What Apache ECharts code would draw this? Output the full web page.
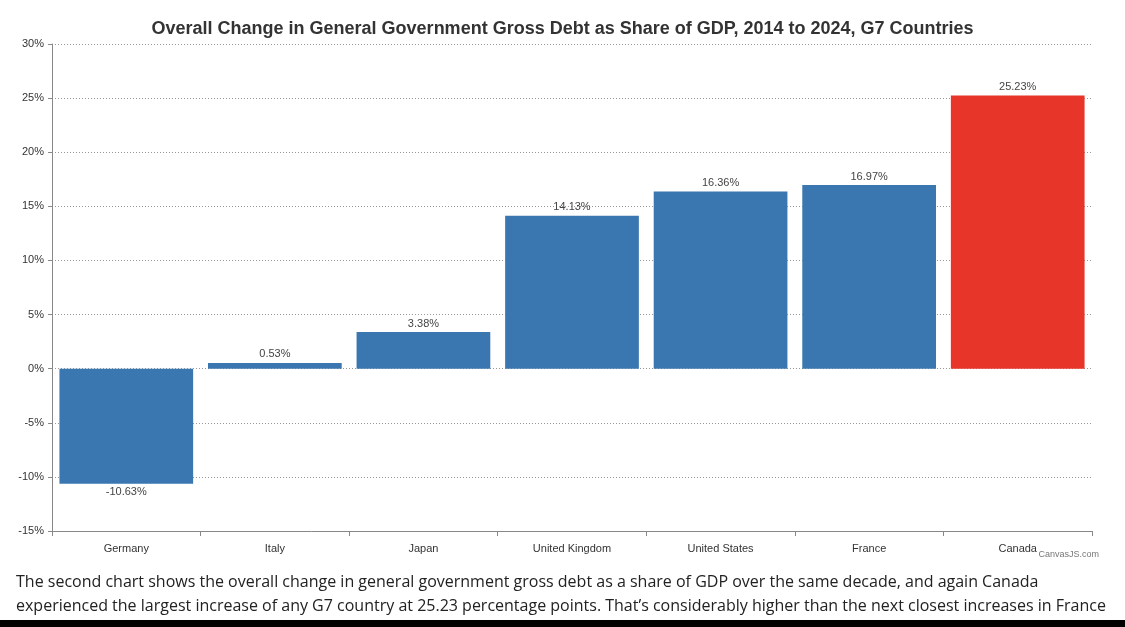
<!DOCTYPE html>
<html><head><meta charset="utf-8">
<script src="https://cdn.jsdelivr.net/npm/echarts@6/dist/echarts.min.js"></script>
<style>
body{margin:0;background:#fff;width:1125px;height:627px;overflow:hidden;position:relative;font-family:"Open Sans",Arial,sans-serif}
#c{position:absolute;left:0;top:0;width:1125px;height:570px}
#p{position:absolute;left:16px;top:569px;width:1100px;font-size:16px;line-height:24px;color:#222;margin:0}
#bar{position:absolute;left:0;top:620px;width:1125px;height:7px;background:#000}
</style></head><body>
<div id="c"></div>
<p id="p">The second chart shows the overall change in general government gross debt as a share of GDP over the same decade, and again Canada experienced the largest increase of any G7 country at 25.23 percentage points. That’s considerably higher than the next closest increases in France (16.97</p>
<div id="bar"></div>
<script>
const categories = ["Germany","Italy","Japan","United Kingdom","United States","France","Canada"];
const values = [-10.63,0.53,3.38,14.13,16.36,16.97,25.23];
const colors = ["#3a77b0","#3a77b0","#3a77b0","#3a77b0","#3a77b0","#3a77b0","#e8352a"];
const chart = echarts.init(document.getElementById('c'));
chart.setOption({
  animation:false,
  title:{text:"Overall Change in General Government Gross Debt as Share of GDP, 2014 to 2024, G7 Countries",left:'center',top:15,textStyle:{fontSize:18,fontWeight:'bold',color:'#333',fontFamily:'Liberation Sans'}},
  graphic:[{type:'text',right:26,top:550,style:{text:'CanvasJS.com',fontSize:9,fill:'#777',fontFamily:'Liberation Sans'}}],
  grid:{left:52,right:33,top:44,bottom:39},
  xAxis:{type:'category',data:categories,axisLine:{onZero:false,lineStyle:{color:'#888'}},axisTick:{show:true,alignWithLabel:false,lineStyle:{color:'#888'}},
    axisLabel:{color:'#333',fontSize:11,margin:12,fontFamily:'Liberation Sans'}},
  yAxis:{type:'value',min:-15,max:30,interval:5,axisLine:{show:true,lineStyle:{color:'#888'}},axisTick:{show:true,length:4,lineStyle:{color:'#888'}},
    axisLabel:{formatter:'{value}%',color:'#333',fontSize:11,fontFamily:'Liberation Sans'},
    splitLine:{lineStyle:{color:'#999',type:[1,2]}}},
  series:[{type:'bar',barCategoryGap:'10%',
    data:values.map((v,i)=>({value:v,itemStyle:{color:colors[i]},label:{position:v<0?'bottom':'top'}})),
    label:{show:true,formatter:p=>p.value.toFixed(2)+'%',color:'#444',fontSize:11,distance:3,fontFamily:'Liberation Sans'}}]
});
</script></body></html>
